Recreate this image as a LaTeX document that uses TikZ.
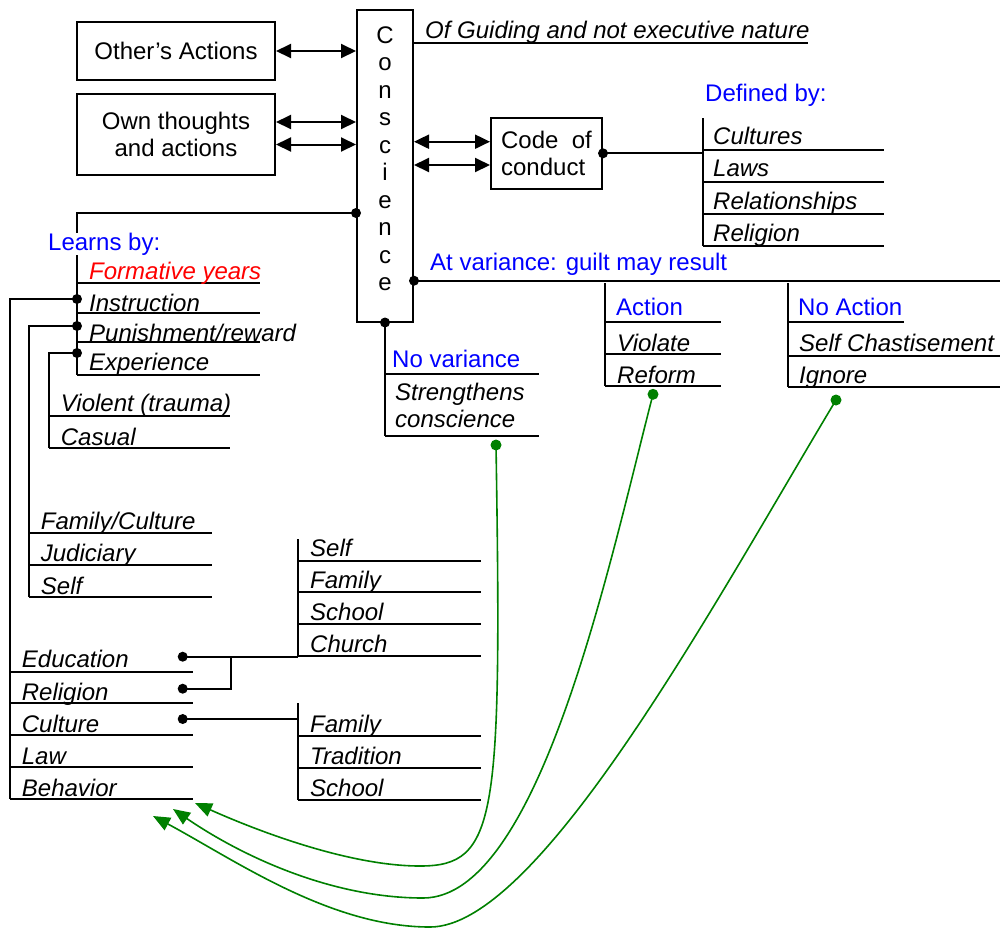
\documentclass[tikz,border=0pt]{standalone}
\usepackage{fontspec}
\setmainfont{Liberation Sans}
\usetikzlibrary{arrows.meta}
\definecolor{dgreen}{RGB}{0,128,0}
\begin{document}
\begin{tikzpicture}[x=1pt,y=-1pt,
  every node/.style={font=\fontsize{24}{27.5}\selectfont},
  box/.style={draw, line width=2pt, inner sep=0pt},
  it/.style={anchor=base west, inner sep=0pt, font=\fontsize{24}{27.5}\selectfont\itshape},
  hd/.style={anchor=base west, inner sep=0pt, text=blue},
  ln/.style={line width=2pt},
  dbl/.style={line width=2pt, {Triangle[length=15pt,width=14pt]}-{Triangle[length=15pt,width=14pt]}},
  garrow/.style={dgreen, line width=1.6pt, -{Triangle[length=17pt,width=14pt]}},
  dot/.style={circle, fill, inner sep=0pt, minimum size=10pt},
  gdot/.style={circle, fill=dgreen, inner sep=0pt, minimum size=11pt},
]
\useasboundingbox (0,0) rectangle (1000,930);

% ---- boxes
\node[box, minimum width=198pt, minimum height=58pt] (other) at (176,51) {Other’s Actions};
\node[box, minimum width=198pt, minimum height=81pt, align=center] (own) at (176,134.5) {Own thoughts\\and actions};
\node[box, minimum width=56pt, minimum height=312pt] (consc) at (385,165.5) {};
\foreach \ch [count=\i] in {C,o,n,s,c,i,e,n,c,e}
  \node[anchor=base, inner sep=0pt] (cl\i) at (385,{43.3+27.5*(\i-1)}) {\ch};
\node[box, minimum width=111pt, minimum height=71pt, align=left] (code) at (546.5,153.3) {Code\ \ of\\conduct};

% ---- arrows
\draw[dbl] (other.east) -- (other.east -| consc.west);
\draw[dbl] ([yshift=12.5pt]own.east) -- ([yshift=12.5pt]own.east -| consc.west);
\draw[dbl] ([yshift=-10pt]own.east) -- ([yshift=-10pt]own.east -| consc.west);
\draw[dbl] ([yshift=11.6pt]code.west -| consc.east) -- ([yshift=11.6pt]code.west);
\draw[dbl] ([yshift=-11.7pt]code.west -| consc.east) -- ([yshift=-11.7pt]code.west);

% ---- guiding
\node[it] (guide) at (425,38.3) {Of Guiding and not executive nature};
\coordinate (guideR) at (808,42.7);
\draw[ln] (guideR -| consc.east) -- (guideR);

% ---- defined by
\node[hd] (defby) at (705,101.7) {Defined by:};
\coordinate (defTop) at (703,118);
\coordinate (defBot) at (703,245.7);
\draw[ln] (code.east) -- (code.east -| defTop);
\node[dot] (cdot) at (code.east) {};
\draw[ln] (defTop) -- (defBot);
\foreach \y in {149.7,181.7,213.7,245.7} \draw[ln] (703,\y) -- (884,\y);
\node[it] (d1) at (713,144.7) {Cultures};
\node[it] (d2) at (713,176.7) {Laws};
\node[it] (d3) at (713,209.3) {Relationships};
\node[it] (d4) at (713,241.3) {Religion};

% ---- learns by
\coordinate (lTL) at (77,213);
\coordinate (lBot) at (77,375);
\node[dot] (ldot) at (lTL -| consc.west) {};
\draw[ln] (ldot.center) -- (lTL) -- (lBot);
\node[hd, fill=white] (learn) at (48,250) {Learns by:};
\foreach \y in {283.3,313.3,342.3,375} \draw[ln] (77,\y) -- (260,\y);
\node[it, text=red] (l1) at (89,279) {Formative years};
\node[it] (l2) at (89,311) {Instruction};
\node[it] (l3) at (89,341) {Punishment/reward};
\node[it] (l4) at (89,370) {Experience};

\node[dot] (dI) at (77,299) {};
\node[dot] (dP) at (77,326) {};
\node[dot] (dE) at (77,353) {};
\coordinate (eTop) at (10,299);
\coordinate (eBot) at (10,799.3);
\coordinate (fTop) at (29,326);
\coordinate (fBot) at (29,597);
\coordinate (vTop) at (48.7,353);
\coordinate (vBot) at (48.7,448);
\draw[ln] (dI.center) -- (eTop) -- (eBot);
\draw[ln] (dP.center) -- (fTop) -- (fBot);
\draw[ln] (dE.center) -- (vTop) -- (vBot);

% experience kinds
\foreach \y in {415.7,448} \draw[ln] (48.7,\y) -- (230,\y);
\node[it] (x1) at (60.7,411.7) {Violent (trauma)};
\node[it] (x2) at (60.7,445) {Casual};

% punishment by
\foreach \y in {533,565,597} \draw[ln] (29,\y) -- (212,\y);
\node[it] (p1) at (40.7,529) {Family/Culture};
\node[it] (p2) at (40.7,561.7) {Judiciary};
\node[it] (p3) at (40.7,594) {Self};

% instruction by
\foreach \y in {671.7,703.3,735.3,767.3,799.3} \draw[ln] (10,\y) -- (193,\y);
\node[it] (i1) at (21.7,667.7) {Education};
\node[it] (i2) at (21.7,700) {Religion};
\node[it] (i3) at (21.7,732.3) {Culture};
\node[it] (i4) at (21.7,764.3) {Law};
\node[it] (i5) at (21.7,796) {Behavior};

\node[dot] (eD) at (182.7,656.7) {};
\node[dot] (rD) at (182.7,688.7) {};
\node[dot] (cD) at (182.7,719) {};
\coordinate (sTop) at (298,539);
\coordinate (sBot) at (298,656);
\coordinate (tTop) at (298,703);
\coordinate (tBot) at (298,800);
\coordinate (rJ) at (230.7,688.7);
\draw[ln] (eD.center) -- (eD.center -| sBot);
\draw[ln] (rD.center) -- (rJ) -- (rJ |- eD.center);
\draw[ln] (cD.center) -- (cD.center -| tTop);

\draw[ln] (sTop) -- (sBot);
\foreach \y in {560.7,592.3,624.3,656} \draw[ln] (298,\y) -- (481,\y);
\node[it] (s1) at (310,556) {Self};
\node[it] (s2) at (310,588.3) {Family};
\node[it] (s3) at (310,620.7) {School};
\node[it] (s4) at (310,652.7) {Church};

\draw[ln] (tTop) -- (tBot);
\foreach \y in {736,767.7,800} \draw[ln] (298,\y) -- (481,\y);
\node[it] (t1) at (310,732.3) {Family};
\node[it] (t2) at (310,764.3) {Tradition};
\node[it] (t3) at (310,796) {School};

% ---- no variance
\node[dot] (bD) at (consc.south) {};
\coordinate (nBot) at (385,436);
\draw[ln] (bD.center) -- (nBot);
\foreach \y in {374.3,436} \draw[ln] (385,\y) -- (538.7,\y);
\node[hd] (nv) at (392,367.3) {No variance};
\node[it] (n1) at (395,400.7) {Strengthens};
\node[it] (n2) at (395,427.3) {conscience};

% ---- at variance
\coordinate (vR) at (1000,280.7);
\node[dot] (vD) at (vR -| consc.east) {};
\draw[ln] (vD.center) -- (vR);
\node[hd] (av) at (430,270.7) {At variance: guilt may result};

\draw[ln] (605,283) -- (605,385.7);
\foreach \y in {321.7,353.7,385.7} \draw[ln] (605,\y) -- (720.7,\y);
\node[hd] (a0) at (616,315.7) {Action};
\node[it] (a1) at (617,351) {Violate};
\node[it] (a2) at (617,383.3) {Reform};

\draw[ln] (788,283) -- (788,387);
\draw[ln] (788,321.7) -- (903.5,321.7);
\draw[ln] (788,355.7) -- (1000,355.7);
\draw[ln] (788,387) -- (1000,387);
\node[hd] (na0) at (798,315.7) {No Action};
\node[it] (na1) at (799,351) {Self Chastisement};
\node[it] (na2) at (799,383.3) {Ignore};

% ---- green feedback arrows
\node[gdot] (g1) at (496,445) {};
\node[gdot] (g2) at (653,394.3) {};
\node[gdot] (g3) at (836,400) {};
\coordinate (tip1) at (195,803);
\coordinate (tip2) at (173,809);
\coordinate (tip3) at (153,816);
\draw[garrow] (g1.center) .. controls (502,820) and (497,866) .. (420,866)
  .. controls (350,866) and (260,832) .. (tip1);
\draw[garrow] (g2.center) .. controls (610,560) and (540,898) .. (423,898)
  .. controls (330,898) and (240,855) .. (tip2);
\draw[garrow] (g3.center) .. controls (716,600) and (540,927) .. (430,927)
  .. controls (330,927) and (235,860) .. (tip3);
\end{tikzpicture}
\end{document}
